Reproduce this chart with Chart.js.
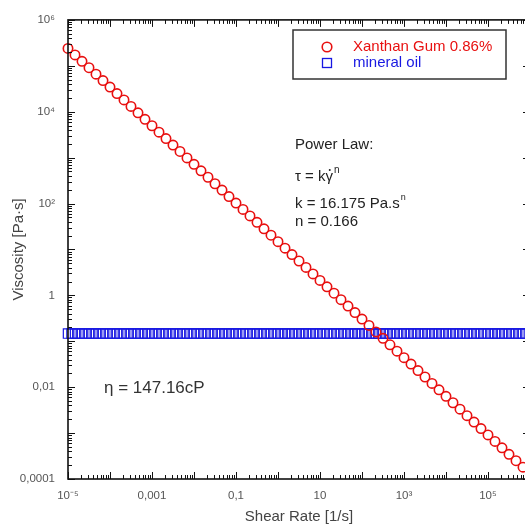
<!DOCTYPE html>
<html>
<head>
<meta charset="utf-8">
<script src="https://cdn.jsdelivr.net/npm/chart.js@4.4.1/dist/chart.umd.min.js"></script>
<style>
  html, body { margin: 0; padding: 0; background: #fff; overflow: hidden; }
  #wrap { width: 540px; height: 532px; }
</style>
</head>
<body>
<div id="wrap"><canvas id="grafico" width="540" height="532"></canvas></div>
<script>
// Xanthan gum 0.86% - shear rate [1/s] / viscosity [Pa.s]
var xanthanRate = [
  1e-5, 1.468e-5, 2.154e-5, 3.162e-5, 4.642e-5, 6.813e-5,
  1e-4, 1.468e-4, 2.154e-4, 3.162e-4, 4.642e-4, 6.813e-4,
  1e-3, 1.468e-3, 2.154e-3, 3.162e-3, 4.642e-3, 6.813e-3,
  0.01, 0.01468, 0.02154, 0.03162, 0.04642, 0.06813,
  0.1, 0.1468, 0.2154, 0.3162, 0.4642, 0.6813,
  1, 1.468, 2.154, 3.162, 4.642, 6.813,
  10, 14.68, 21.54, 31.62, 46.42, 68.13,
  100, 146.8, 215.4, 316.2, 464.2, 681.3,
  1e3, 1.468e3, 2.154e3, 3.162e3, 4.642e3, 6.813e3,
  1e4, 1.468e4, 2.154e4, 3.162e4, 4.642e4, 6.813e4,
  1e5, 1.468e5, 2.154e5, 3.162e5, 4.642e5, 6.813e5
]
var xanthanVisc = [
  2.39e5, 1.73e5, 1.254e5, 9.08e4, 6.57e4, 4.76e4,
  3.44e4, 2.49e4, 1.805e4, 1.306e4, 9460, 6840,
  4950, 3590, 2600, 1879, 1361, 985,
  713, 516, 374, 270, 196, 142,
  102.6, 74.3, 53.7, 38.9, 28.2, 20.4,
  14.76, 10.68, 7.73, 5.60, 4.05, 2.93,
  2.12, 1.537, 1.113, 0.805, 0.583, 0.422,
  0.305, 0.221, 0.160, 0.1159, 0.0839, 0.0607,
  0.0440, 0.0318, 0.0230, 0.01667, 0.01207, 0.00874,
  0.00632, 0.00458, 0.00331, 0.00240, 0.001737, 0.001257,
  0.000910, 0.000659, 0.000477, 0.000345, 0.000250, 0.000181
]

// mineral oil
var oilRate = [
  1e-5, 1.212e-5, 1.468e-5, 1.778e-5, 2.154e-5, 2.61e-5, 3.162e-5, 3.831e-5, 4.642e-5, 5.623e-5, 6.813e-5, 8.254e-5,
  1e-4, 1.212e-4, 1.468e-4, 1.778e-4, 2.154e-4, 2.61e-4, 3.162e-4, 3.831e-4, 4.642e-4, 5.623e-4, 6.813e-4, 8.254e-4,
  1e-3, 1.212e-3, 1.468e-3, 1.778e-3, 2.154e-3, 2.61e-3, 3.162e-3, 3.831e-3, 4.642e-3, 5.623e-3, 6.813e-3, 8.254e-3,
  0.01, 0.01212, 0.01468, 0.01778, 0.02154, 0.0261, 0.03162, 0.03831, 0.04642, 0.05623, 0.06813, 0.08254,
  0.1, 0.1212, 0.1468, 0.1778, 0.2154, 0.261, 0.3162, 0.3831, 0.4642, 0.5623, 0.6813, 0.8254,
  1, 1.212, 1.468, 1.778, 2.154, 2.61, 3.162, 3.831, 4.642, 5.623, 6.813, 8.254,
  10, 12.12, 14.68, 17.78, 21.54, 26.1, 31.62, 38.31, 46.42, 56.23, 68.13, 82.54,
  100, 121.2, 146.8, 177.8, 215.4, 261, 316.2, 383.1, 464.2, 562.3, 681.3, 825.4,
  1e3, 1.212e3, 1.468e3, 1.778e3, 2.154e3, 2.61e3, 3.162e3, 3.831e3, 4.642e3, 5.623e3, 6.813e3, 8.254e3,
  1e4, 1.212e4, 1.468e4, 1.778e4, 2.154e4, 2.61e4, 3.162e4, 3.831e4, 4.642e4, 5.623e4, 6.813e4, 8.254e4,
  1e5, 1.212e5, 1.468e5, 1.778e5, 2.154e5, 2.61e5, 3.162e5, 3.831e5, 4.642e5, 5.623e5, 6.813e5, 8.254e5
]
var oilVisc = [
  0.1472, 0.1472, 0.1472, 0.1472, 0.1472, 0.1472, 0.1472, 0.1472, 0.1472, 0.1472, 0.1472, 0.1472,
  0.1472, 0.1472, 0.1472, 0.1472, 0.1472, 0.1472, 0.1472, 0.1472, 0.1472, 0.1472, 0.1472, 0.1472,
  0.1472, 0.1472, 0.1472, 0.1472, 0.1472, 0.1472, 0.1472, 0.1472, 0.1472, 0.1472, 0.1472, 0.1472,
  0.1472, 0.1472, 0.1472, 0.1472, 0.1472, 0.1472, 0.1472, 0.1472, 0.1472, 0.1472, 0.1472, 0.1472,
  0.1472, 0.1472, 0.1472, 0.1472, 0.1472, 0.1472, 0.1472, 0.1472, 0.1472, 0.1472, 0.1472, 0.1472,
  0.1472, 0.1472, 0.1472, 0.1472, 0.1472, 0.1472, 0.1472, 0.1472, 0.1472, 0.1472, 0.1472, 0.1472,
  0.1472, 0.1472, 0.1472, 0.1472, 0.1472, 0.1472, 0.1472, 0.1472, 0.1472, 0.1472, 0.1472, 0.1472,
  0.1472, 0.1472, 0.1472, 0.1472, 0.1472, 0.1472, 0.1472, 0.1472, 0.1472, 0.1472, 0.1472, 0.1472,
  0.1472, 0.1472, 0.1472, 0.1472, 0.1472, 0.1472, 0.1472, 0.1472, 0.1472, 0.1472, 0.1472, 0.1472,
  0.1472, 0.1472, 0.1472, 0.1472, 0.1472, 0.1472, 0.1472, 0.1472, 0.1472, 0.1472, 0.1472, 0.1472,
  0.1472, 0.1472, 0.1472, 0.1472, 0.1472, 0.1472, 0.1472, 0.1472, 0.1472, 0.1472, 0.1472, 0.1472
]

var xTickValues = [1e-5, 1e-3, 0.1, 10, 1e3, 1e5]
var xTickLabels = ['10⁻⁵', '0,001', '0,1', '10', '10³', '10⁵']
var yTickValues = [1e-4, 0.01, 1, 100, 1e4, 1e6]
var yTickLabels = ['0,0001', '0,01', '1', '10²', '10⁴', '10⁶']

var seriesNames = ['Xanthan Gum 0.86%', 'mineral oil']
var FONT = '"Liberation Sans", Arial, sans-serif'
var RED = 'rgb(232,16,16)'
var BLUE = 'rgb(24,24,226)'

function pontos(xs, ys) {
  return xs.map((x, i) => ({ x: x, y: ys[i] }))
}

// ticks pointing inward on all 4 sides + frame
var eixos = {
  id: 'eixos',
  afterDraw(chart) {
    var ctx = chart.ctx
    var a = chart.chartArea
    var sx = chart.scales.x
    var sy = chart.scales.y
    ctx.save()
    ctx.strokeStyle = '#111'
    ctx.lineWidth = 1
    for (var d = -5; d <= 6; d++) {
      for (var m = 1; m <= 9; m++) {
        var v = m * Math.pow(10, d)
        if (v > sx.max * 1.0001) break
        var px = Math.round(sx.getPixelForValue(v)) + 0.5
        var len = m == 1 ? 7 : 4
        ctx.beginPath()
        ctx.moveTo(px, a.bottom); ctx.lineTo(px, a.bottom - len)
        ctx.moveTo(px, a.top); ctx.lineTo(px, a.top + len)
        ctx.stroke()
      }
    }
    for (var d = -4; d <= 6; d++) {
      for (var m = 1; m <= 9; m++) {
        var v = m * Math.pow(10, d)
        if (v > sy.max * 1.0001) break
        var py = Math.round(sy.getPixelForValue(v)) + 0.5
        var len = m == 1 ? 7 : 4
        ctx.beginPath()
        ctx.moveTo(a.left, py); ctx.lineTo(a.left + len, py)
        ctx.moveTo(a.right, py); ctx.lineTo(a.right - len, py)
        ctx.stroke()
      }
    }
    ctx.lineWidth = 1.6
    ctx.strokeRect(a.left, a.top, a.right - a.left, a.bottom - a.top)
    ctx.restore()
  }
}

// boxed legend + power law notes
var textos = {
  id: 'textos',
  afterDraw(chart) {
    var ctx = chart.ctx
    ctx.save()
    ctx.lineWidth = 1.5
    ctx.strokeStyle = '#333'
    ctx.strokeRect(293, 30, 213, 49)

    ctx.textBaseline = 'middle'
    ctx.font = '15px ' + FONT

    ctx.lineWidth = 1.6
    ctx.strokeStyle = RED
    ctx.beginPath()
    ctx.arc(327, 47, 4.8, 0, Math.PI * 2)
    ctx.stroke()
    ctx.fillStyle = RED
    ctx.fillText(seriesNames[0], 353, 47)

    ctx.lineWidth = 1.3
    ctx.strokeStyle = BLUE
    ctx.strokeRect(322.5, 58.5, 9, 9)
    ctx.fillStyle = BLUE
    ctx.fillText(seriesNames[1], 353, 63)

    ctx.fillStyle = '#222'
    ctx.fillText('Power Law:', 295, 145)

    var base = 'τ = kγ'
    ctx.fillText(base, 295, 177)
    var w = ctx.measureText(base).width
    var wg = ctx.measureText('γ').width
    // dot over gamma
    ctx.beginPath()
    ctx.arc(295 + w - wg / 2 + 0.5, 170, 1, 0, Math.PI * 2)
    ctx.fill()
    ctx.font = '10px ' + FONT
    ctx.fillText('n', 295 + w + 1, 170)

    ctx.font = '15px ' + FONT
    var kTxt = 'k = 16.175 Pa.s'
    ctx.fillText(kTxt, 295, 204)
    var wk = ctx.measureText(kTxt).width
    ctx.font = '9px ' + FONT
    ctx.fillText('n', 295 + wk + 1, 198)

    ctx.font = '15px ' + FONT
    ctx.fillText('n = 0.166', 295, 222)

    ctx.fillStyle = '#333'
    ctx.font = '17px ' + FONT
    ctx.fillText('η = 147.16cP', 104, 388)
    ctx.restore()
  }
}

var chart = new Chart(document.getElementById('grafico'), {
  type: 'scatter',
  data: {
    datasets: [{
      label: seriesNames[0],
      data: pontos(xanthanRate, xanthanVisc),
      pointStyle: 'circle',
      pointRadius: 4.7,
      pointBorderWidth: 1.6,
      borderColor: RED,
      backgroundColor: 'rgba(0,0,0,0)',
      showLine: false,
      clip: false
    }, {
      label: seriesNames[1],
      data: pontos(oilRate, oilVisc),
      pointStyle: 'rect',
      pointRadius: 6.6,
      pointBorderWidth: 1.2,
      borderColor: BLUE,
      backgroundColor: 'rgba(0,0,0,0)',
      showLine: false,
      clip: false
    }]
  },
  options: {
    responsive: false,
    animation: false,
    devicePixelRatio: 1,
    layout: { padding: { top: 17, right: 10, left: 0, bottom: 0 } },
    plugins: {
      legend: { display: false },
      tooltip: { enabled: false }
    },
    scales: {
      x: {
        type: 'logarithmic',
        min: 1e-5,
        max: 1e6,
        afterFit(s) { s.height = 53 },
        afterBuildTicks(s) { s.ticks = xTickValues.map(v => ({ value: v })) },
        grid: { display: false, drawTicks: false },
        border: { display: false },
        ticks: {
          padding: 10,
          color: '#555',
          font: { family: FONT, size: 11.5 },
          maxRotation: 0,
          autoSkip: false,
          callback: function (v) {
            var i = xTickValues.findIndex(t => Math.abs(Math.log10(t) - Math.log10(v)) < 1e-6)
            return i >= 0 ? xTickLabels[i] : ''
          }
        },
        title: {
          display: true,
          text: 'Shear Rate [1/s]',
          color: '#444',
          font: { family: FONT, size: 15 },
          padding: { top: 0, bottom: 6 }
        }
      },
      y: {
        type: 'logarithmic',
        min: 1e-4,
        max: 1e6,
        afterFit(s) { s.width = 68 },
        afterBuildTicks(s) { s.ticks = yTickValues.map(v => ({ value: v })) },
        grid: { display: false, drawTicks: false },
        border: { display: false },
        ticks: {
          padding: 13,
          color: '#555',
          font: { family: FONT, size: 11.5 },
          autoSkip: false,
          callback: function (v) {
            var i = yTickValues.findIndex(t => Math.abs(Math.log10(t) - Math.log10(v)) < 1e-6)
            return i >= 0 ? yTickLabels[i] : ''
          }
        },
        title: {
          display: true,
          text: 'Viscosity [Pa·s]',
          color: '#444',
          font: { family: FONT, size: 15 },
          padding: { top: 10, bottom: 0 }
        }
      }
    }
  },
  plugins: [eixos, textos]
})
</script>
</body>
</html>
